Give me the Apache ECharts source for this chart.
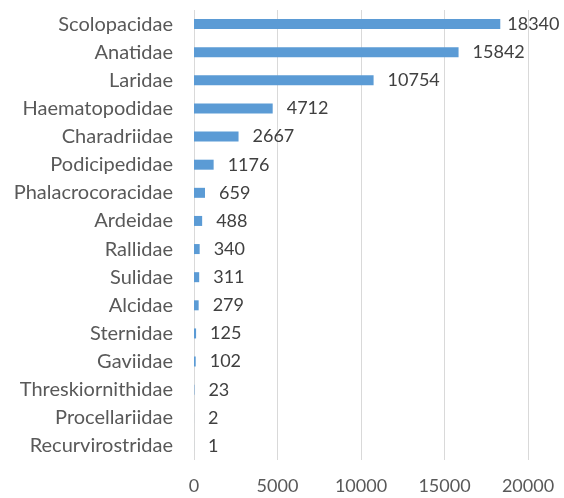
<!DOCTYPE html>
<html>
<head>
<meta charset="utf-8">
<script src="https://cdn.jsdelivr.net/npm/echarts@6/dist/echarts.min.js"></script>
<style>
  html, body { margin: 0; padding: 0; background: #fff; }
  #chart { width: 564px; height: 498px; }
</style>
</head>
<body>
<div id="chart"></div>
<script>
// families, top to bottom as in the picture
var families = ['Scolopacidae', 'Anatidae', 'Laridae', 'Haematopodidae', 'Charadriidae',
  'Podicipedidae', 'Phalacrocoracidae', 'Ardeidae', 'Rallidae', 'Sulidae', 'Alcidae',
  'Sternidae', 'Gaviidae', 'Threskiornithidae', 'Procellariidae', 'Recurvirostridae'];
var counts = [18340, 15842, 10754, 4712, 2667, 1176, 659, 488, 340, 311, 279, 125, 102, 23, 2, 1];
var xTicks = [0, 5000, 10000, 15000, 20000];

var chart = echarts.init(document.getElementById('chart'));

// longest bar's label sits a bit closer so it fits in the window
var barData = counts.map(function (v, i) {
  return i === 0 ? { value: v, label: { distance: 7 } } : v;
});

var option = {
  animation: false,
  textStyle: { fontFamily: 'Lato' },
  grid: { left: 194, right: 36, top: 10, bottom: 38 },
  xAxis: {
    type: 'value',
    min: xTicks[0],
    max: xTicks[xTicks.length - 1],
    interval: 5000,
    axisLine: { show: false },
    axisTick: { show: false },
    splitLine: { show: true, lineStyle: { color: '#d9d9d9', width: 1 } },
    axisLabel: {
      color: '#595959', fontSize: 18, margin: 17,
      formatter: function (v) { return String(v); }
    }
  },
  yAxis: {
    type: 'category',
    inverse: true,
    data: families,
    axisLine: { show: false },
    axisTick: { show: false },
    axisLabel: { color: '#595959', fontSize: 20, margin: 21 }
  },
  series: [{
    type: 'bar',
    data: barData,
    barWidth: 10,
    itemStyle: { color: '#5b9bd5' },
    label: {
      show: true,
      position: 'right',
      distance: 14,
      color: '#404040',
      fontSize: 18
    }
  }]
};

chart.setOption(option);
</script>
</body>
</html>
